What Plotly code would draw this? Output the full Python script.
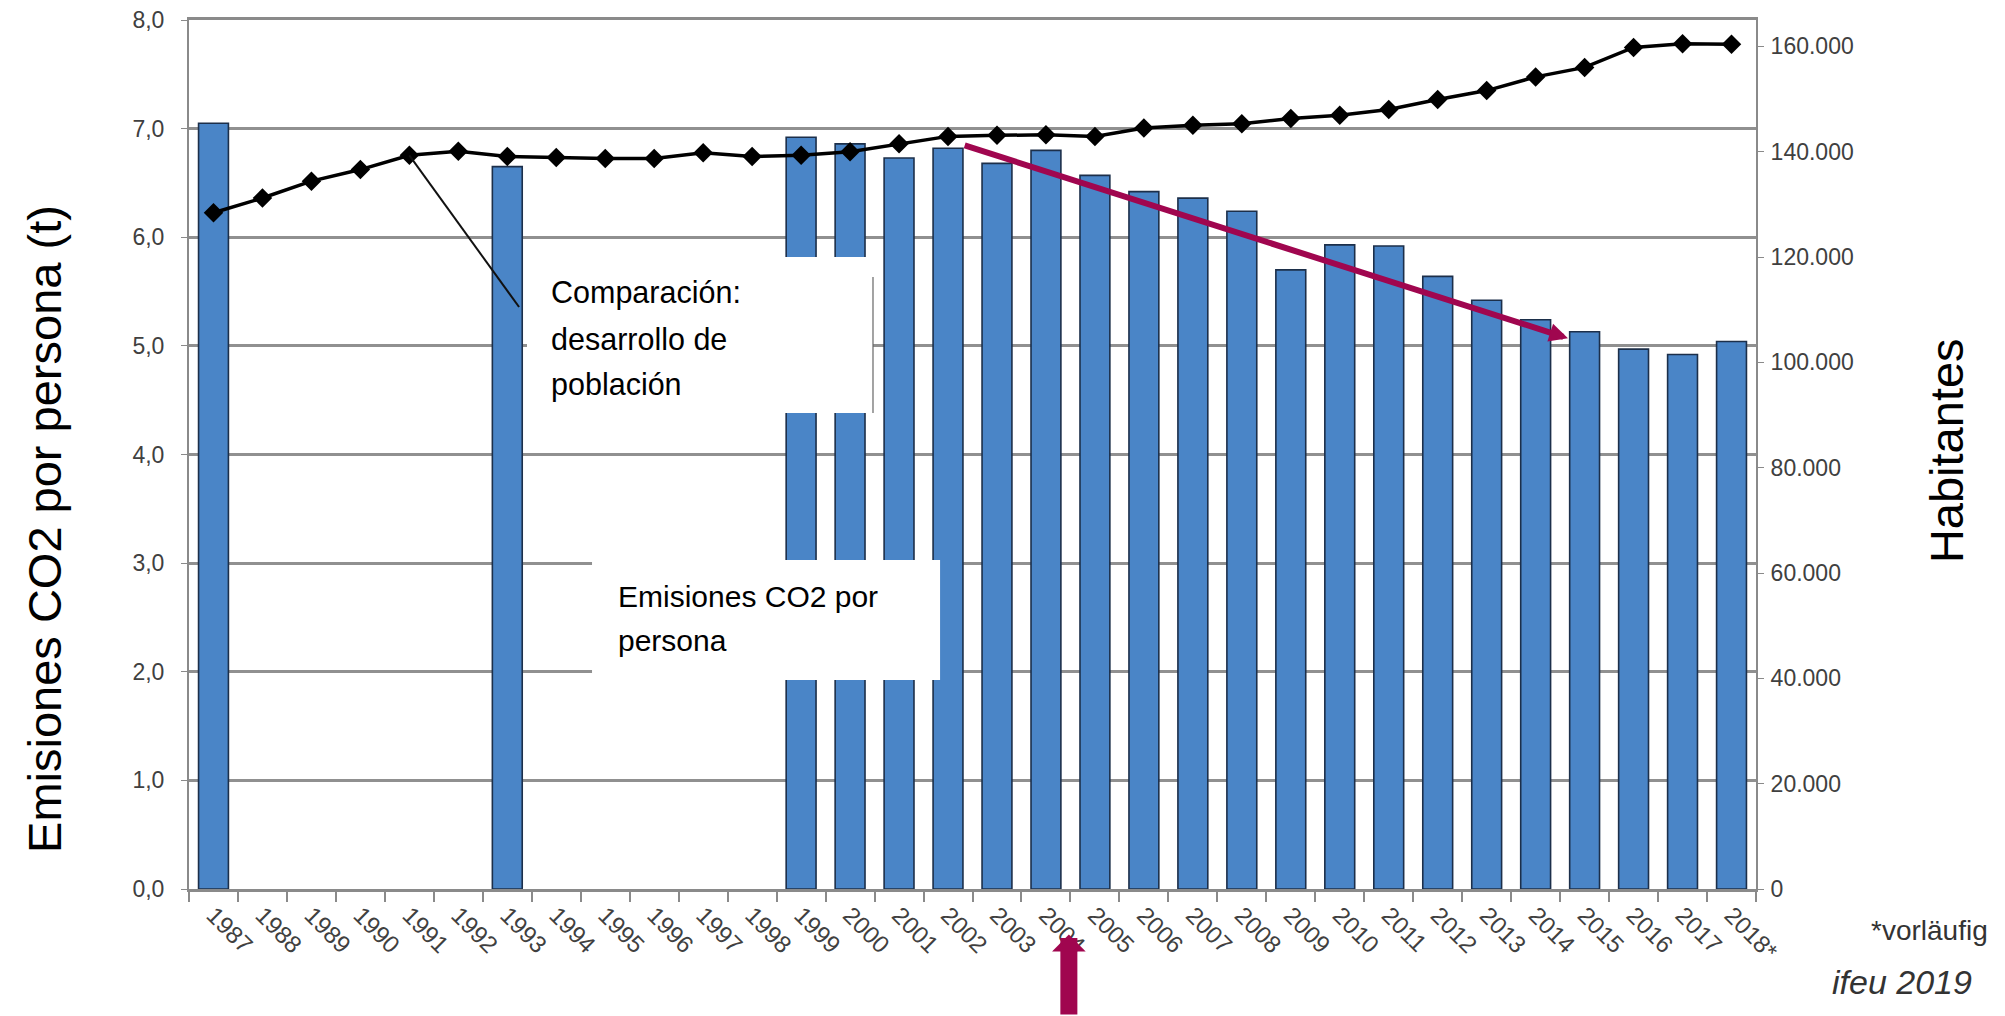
import plotly.graph_objects as go

# ---------------- data ----------------
years = ["1987", "1988", "1989", "1990", "1991", "1992", "1993", "1994", "1995", "1996",
         "1997", "1998", "1999", "2000", "2001", "2002", "2003", "2004", "2005", "2006",
         "2007", "2008", "2009", "2010", "2011", "2012", "2013", "2014", "2015", "2016",
         "2017", "2018*"]

co2_per_person = [7.05, None, None, None, None, None, 6.65, None, None, None,
                  None, None, 6.92, 6.86, 6.73, 6.82, 6.68, 6.80, 6.57, 6.42,
                  6.36, 6.24, 5.70, 5.93, 5.92, 5.64, 5.42, 5.24, 5.13, 4.97,
                  4.92, 5.04]

population = [128400, 131200, 134400, 136600, 139300, 140100, 139100, 138900, 138700, 138700,
              139800, 139100, 139300, 140000, 141500, 142900, 143100, 143200, 142900, 144500,
              145000, 145300, 146300, 146900, 148000, 149900, 151600, 154200, 156000, 159800,
              160500, 160400]

y_left_range = [0, 8]
y_right_max = 165000
y_right_ticks = [0, 20000, 40000, 60000, 80000, 100000, 120000, 140000, 160000]

# ---------------- style ----------------
SANS = "Liberation Sans, Arial, sans-serif"
GRID = "#909090"
AXIS = "#8a8a8a"
TICKTXT = "#404040"
CRIMSON = "#a0064f"

fig = go.Figure()

fig.add_trace(go.Bar(
    x=years, y=co2_per_person, name="Emisiones CO2 por persona",
    marker=dict(color="#4a85c7", line=dict(color="#1c2f4a", width=1.6)),
    yaxis="y",
))

fig.add_trace(go.Scatter(
    x=years, y=population, name="Habitantes", mode="lines+markers",
    line=dict(color="black", width=3.5),
    marker=dict(symbol="diamond", size=15, color="black"),
    yaxis="y2",
))

fig.update_layout(
    width=2005, height=1016,
    margin=dict(l=189, r=249, t=20, b=127, autoexpand=False),
    paper_bgcolor="white", plot_bgcolor="white",
    separators=",.",
    showlegend=False,
    bargap=0.39,
    xaxis=dict(
        type="category", tickson="boundaries", ticks="outside", ticklen=10,
        tickcolor=AXIS, tickwidth=2, tickangle=45,
        tickfont=dict(family=SANS, size=24, color=TICKTXT),
        showline=True, linecolor=AXIS, linewidth=2.5, showgrid=False, mirror=True,
        range=[-0.5, len(years) - 0.5],
    ),
    yaxis=dict(
        range=y_left_range, dtick=1, tickformat=".1f",
        showgrid=True, gridcolor=GRID, gridwidth=2.5,
        showline=True, linecolor=AXIS, linewidth=2,
        ticks="outside", ticklen=6, tickcolor=AXIS,
        tickfont=dict(family=SANS, size=23, color=TICKTXT),
        ticklabelstandoff=12, zeroline=False,
    ),
    yaxis2=dict(
        overlaying="y", side="right", range=[0, y_right_max],
        tickvals=y_right_ticks, tickformat=",d",
        showgrid=False, showline=True, linecolor=AXIS, linewidth=2,
        ticks="outside", ticklen=6, tickcolor=AXIS,
        tickfont=dict(family=SANS, size=23, color=TICKTXT),
        ticklabelstandoff=2, zeroline=False,
    ),
)

idx_1991 = years.index("1991")

shapes = [
    dict(type="line", xref="x", yref="paper",
         x0=idx_1991, y0=population[idx_1991] / y_right_max,
         x1=6.24, y1=0.6697, line=dict(color="#111111", width=2), layer="above"),
    dict(type="rect", xref="paper", yref="paper", x0=0.2157, x1=0.4365, y0=0.5478, y1=0.7273,
         fillcolor="white", line=dict(width=0), layer="above"),
    dict(type="line", xref="paper", yref="paper", x0=0.4365, x1=0.4365, y0=0.5478, y1=0.7043,
         line=dict(color="#666666", width=1.2), layer="above"),
    dict(type="rect", xref="paper", yref="paper", x0=0.2572, x1=0.4793, y0=0.2405, y1=0.3786,
         fillcolor="white", line=dict(width=0), layer="above"),
]
fig.update_layout(shapes=shapes)

ann = []
def txt(text, x, y, size, family=SANS, color="black", xanchor="left", angle=0):
    ann.append(dict(text=text, x=x, y=y, xref="paper", yref="paper", showarrow=False,
                    xanchor=xanchor, yanchor="middle", textangle=angle,
                    font=dict(family=family, size=size, color=color)))

txt("Comparación:", 0.2295, 0.6865, 30.5)
txt("desarrollo de", 0.2295, 0.6325, 30.5)
txt("población", 0.2295, 0.5807, 30.5)
txt("Emisiones CO2 por", 0.2722, 0.3367, 30)
txt("persona", 0.2722, 0.2861, 30)
txt("Emisiones CO2 por persona (t)", -0.0919, 0.4143, 47, xanchor="center", angle=-90)
txt("Habitantes", 1.1213, 0.504, 47, xanchor="center", angle=-90)
txt("*vorläufig", 1.072, -0.0472, 28, color="#333333")
txt("<i>ifeu 2019</i>", 1.0474, -0.107, 34, color="#333333")

ann.append(dict(x=27.66, y=5.07, xref="x", yref="y", ax=15.31, ay=6.85, axref="x", ayref="y",
                text="", showarrow=True, arrowhead=2, arrowsize=0.62, arrowwidth=6,
                arrowcolor=CRIMSON, standoff=0, startstandoff=0))
ann.append(dict(x=0.5615, y=-0.0525, xref="paper", yref="paper", ax=0, ay=82,
                text="", showarrow=True, arrowhead=1, arrowsize=0.33, arrowwidth=17,
                arrowcolor=CRIMSON, standoff=0))
fig.update_layout(annotations=ann)

fig.write_html("out.html", config={"displayModeBar": False},
               post_script="document.body.style.margin='0px';document.body.style.overflow='hidden';")
